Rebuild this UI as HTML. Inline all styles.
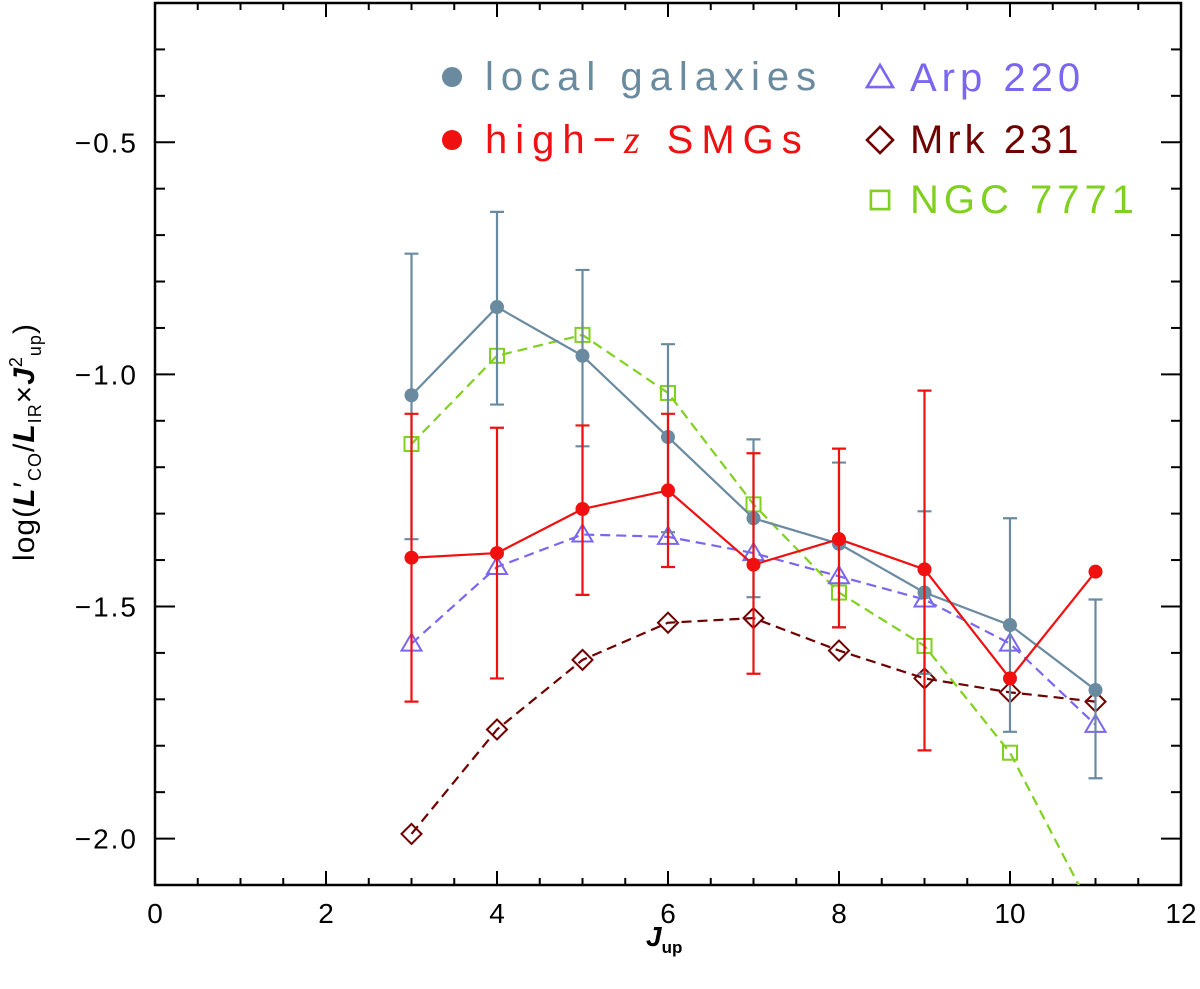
<!DOCTYPE html>
<html><head><meta charset="utf-8"><style>
body{margin:0;background:#fff;}
svg{display:block;font-family:"Liberation Sans",sans-serif;}
</style></head><body>
<svg id="chart" width="1200" height="989">
<g id="axes"></g>
<g id="marks" clip-path="url(#clip)"></g>
<defs><clipPath id="clip"><rect x="155" y="3" width="1026" height="882"/></clipPath></defs>
<g id="legend"></g>
<text x="34" y="442" transform="rotate(-90 34 442)" text-anchor="middle" font-size="30" letter-spacing="1">log(<tspan font-style="italic" font-weight="bold">L</tspan>′<tspan font-size="18" dy="7">CO</tspan><tspan dy="-7">/</tspan><tspan font-style="italic" font-weight="bold">L</tspan><tspan font-size="18" dy="7">IR</tspan><tspan dy="-7">×</tspan><tspan font-style="italic" font-weight="bold">J</tspan><tspan font-size="18" dy="-12">2</tspan><tspan font-size="18" dy="19">up</tspan><tspan dy="-7">)</tspan></text>
<text x="646" y="946" font-size="28"><tspan font-style="italic" font-weight="bold">J</tspan><tspan font-size="17" font-weight="bold" dy="7">up</tspan></text>
</svg>
<script>
const J=[3,4,5,6,7,8,9,10,11];
const localVals=[-1.045,-0.855,-0.96,-1.135,-1.31,-1.365,-1.47,-1.54,-1.68];
const localHi=[-0.74,-0.65,-0.775,-0.935,-1.14,-1.19,-1.295,-1.31,-1.485];
const localLo=[-1.355,-1.065,-1.155,-1.34,-1.48,-1.545,-1.645,-1.77,-1.87];
const smgVals=[-1.395,-1.385,-1.29,-1.25,-1.41,-1.355,-1.42,-1.655,-1.425];
const smgHi=[-1.085,-1.115,-1.11,-1.085,-1.17,-1.16,-1.035,null,null];
const smgLo=[-1.705,-1.655,-1.475,-1.415,-1.645,-1.545,-1.81,null,null];
const arpVals=[-1.58,-1.415,-1.345,-1.35,-1.385,-1.435,-1.485,-1.58,-1.755];
const mrkVals=[-1.99,-1.765,-1.615,-1.535,-1.525,-1.595,-1.655,-1.685,-1.705];
const ngcVals=[-1.15,-0.96,-0.915,-1.04,-1.28,-1.47,-1.585,-1.815,-2.17];
const xTicks=[0,2,4,6,8,10,12];
const yTicks=[-2.0,-1.5,-1.0,-0.5];
const X0=155,X1=1181,Y0=885,Y1=3,XMIN=0,XMAX=12,YMIN=-2.1,YMAX=-0.2;
const sx=v=>X0+(v-XMIN)/(XMAX-XMIN)*(X1-X0);
const sy=v=>Y0-(v-YMIN)/(YMAX-YMIN)*(Y0-Y1);
const NS="http://www.w3.org/2000/svg";
function mk(p,t,a){const e=document.createElementNS(NS,t);for(const k in a)e.setAttribute(k,a[k]);p.appendChild(e);return e;}
const axes=document.getElementById('axes'),marks=document.getElementById('marks'),leg=document.getElementById('legend');
const fr=mk(axes,'rect',{x:X0,y:Y1,width:X1-X0,height:Y0-Y1,fill:'none',stroke:'#000','stroke-width':2.5});

for(let v=0;v<=12.001;v+=0.5){const x=sx(v),maj=Math.abs(v%2)<1e-6,L=maj?14:7;
 mk(axes,'line',{x1:x,x2:x,y1:Y0,y2:Y0-L,stroke:'#000','stroke-width':2});
 mk(axes,'line',{x1:x,x2:x,y1:Y1,y2:Y1+L,stroke:'#000','stroke-width':2});}
for(let i=-21;i<=-2;i++){const v=i/10,y=sy(v),maj=(i%5===0),L=maj?20:10;
 mk(axes,'line',{x1:X0,x2:X0+L,y1:y,y2:y,stroke:'#000','stroke-width':2});
 mk(axes,'line',{x1:X1,x2:X1-L,y1:y,y2:y,stroke:'#000','stroke-width':2});}
xTicks.forEach(v=>{const t=mk(axes,'text',{x:sx(v),y:923,'text-anchor':'middle','font-size':28});t.textContent=v;
 });
yTicks.forEach(v=>{const t=mk(axes,'text',{x:138,y:sy(v)+10,'text-anchor':'end','font-size':28,'letter-spacing':2});t.textContent=v.toFixed(1).replace('-','−');
 });
function line(vals,color,dash,name){const pts=J.map((j,i)=>sx(j)+','+sy(vals[i])).join(' ');
 const e=mk(marks,'polyline',{points:pts,fill:'none',stroke:color,'stroke-width':2.2,'stroke-dasharray':dash||''});
 }
function errs(hi,lo,color,name){J.forEach((j,i)=>{if(hi[i]==null)return;const x=sx(j);
 const e=mk(marks,'path',{d:`M${x},${sy(hi[i])}V${sy(lo[i])}M${x-7},${sy(hi[i])}H${x+7}M${x-7},${sy(lo[i])}H${x+7}`,stroke:color,'stroke-width':2.2,fill:'none'});
 });}
function sym(p,type,x,y,color){let e;
 if(type==='dot')e=mk(p,'circle',{cx:x,cy:y,r:7,fill:color});
 else if(type==='tri')e=mk(p,'polygon',{points:`${x},${y-10} ${x-10},${y+7} ${x+10},${y+7}`,fill:'none',stroke:color,'stroke-width':2});
 else if(type==='dia')e=mk(p,'polygon',{points:`${x},${y-10} ${x+10},${y} ${x},${y+10} ${x-10},${y}`,fill:'none',stroke:color,'stroke-width':2});
 else e=mk(p,'rect',{x:x-7,y:y-7,width:14,height:14,fill:'none',stroke:color,'stroke-width':2});
 return e;}
function pts(vals,type,color,name){J.forEach((j,i)=>{const e=sym(marks,type,sx(j),sy(vals[i]),color);
 });}
const cL='#6a8aa0',cS='#f01010',cA='#7a66f0',cM='#700000',cN='#80d020';
line(ngcVals,cN,'10,6','ngc7771-line');pts(ngcVals,'sq',cN,'ngc7771-point');
line(mrkVals,cM,'10,6','mrk231-line');pts(mrkVals,'dia',cM,'mrk231-point');
line(arpVals,cA,'10,6','arp220-line');pts(arpVals,'tri',cA,'arp220-point');
errs(localHi,localLo,cL,'local-errorbar');line(localVals,cL,'','local-galaxies-line');pts(localVals,'dot',cL,'local-galaxies-point');
errs(smgHi,smgLo,cS,'smg-errorbar');line(smgVals,cS,'','smg-line');pts(smgVals,'dot',cS,'smg-point');
const L=[['dot',cL,'local galaxies',452,77,'legend-local-galaxies',7],['dot',cS,null,452,140,'legend-smgs',8],
 ['tri',cA,'Arp 220',880,78,'legend-arp220',5],['dia',cM,'Mrk 231',880,140,'legend-mrk231',4],['sq',cN,'NGC 7771',880,200,'legend-ngc7771',5]];
L.forEach(([t,c,txt,x,y,n,ls])=>{const g=mk(leg,'g',{});
 const s=sym(g,t,x,y,c);if(t==='dot')s.setAttribute('r',10);else s.setAttribute('transform',`translate(${x},${y}) scale(1.3) translate(${-x},${-y})`);
 const e=mk(g,'text',{x:x+(t==='dot'?33:30),y:y+13,'font-size':40,fill:c,'letter-spacing':ls});
 if(txt)e.textContent=txt;else e.innerHTML='high−<tspan font-family="Liberation Serif" font-style="italic">z</tspan> SMGs';});
</script>
</body></html>
